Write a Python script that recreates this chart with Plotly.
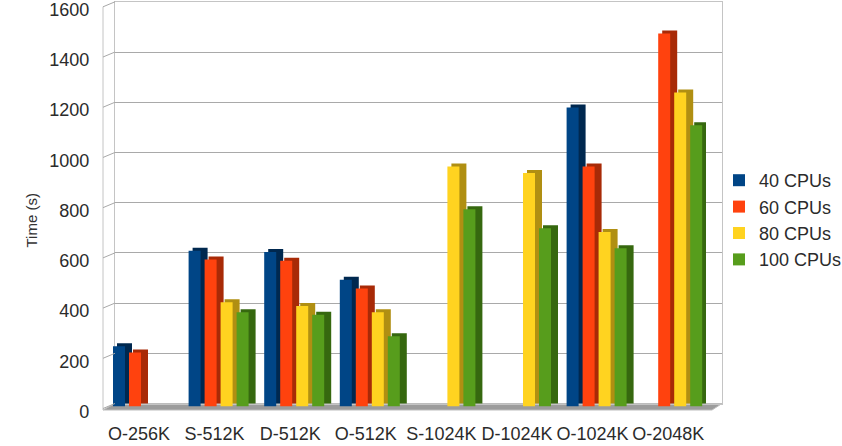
import plotly.graph_objects as go

# Benchmark run times per input set and CPU count
categories = ["O-256K", "S-512K", "D-512K", "O-512K", "S-1024K", "D-1024K", "O-1024K", "O-2048K"]
series_names = ["40 CPUs", "60 CPUs", "80 CPUs", "100 CPUs"]
cpu40 = [240, 620, 615, 505, None, None, 1190, None]
cpu60 = [215, 585, 580, 470, None, None, 955, 1485]
cpu80 = [None, 415, 400, 375, 955, 930, 695, 1250]
cpu100 = [None, 375, 365, 280, 785, 710, 630, 1120]
y_ticks = [0, 200, 400, 600, 800, 1000, 1200, 1400, 1600]

front_colors = ["#004586", "#ff420e", "#ffd320", "#579d1c"]
side_colors = ["#00284f", "#a82a07", "#b08f12", "#36680f"]

W, H = 842, 446
YMAX = 1600

# pixel geometry of the pseudo-3D box
BACK_L, BACK_R = 115, 722       # back wall
BACK_Y0, BACK_Y1 = 403.5, 1.8   # back wall bottom / top
BAR_L, BAR_R = 101.2, 706       # bar plane (category range -0.5 .. 7.5)
BAR_Y0, BAR_Y1 = 406.5, 4.6
FRONT_L = 103
DEPTH_DY = 5.0


def px(x):
    return x / W


def py(y):
    return (H - y) / H


def back_y(v):
    return BACK_Y0 - v * (BACK_Y0 - BACK_Y1) / YMAX


unit_px = (BAR_R - BAR_L) / len(categories)
slot = 16 / unit_px
face_w = 12 / unit_px
side_dx = 4 / unit_px
side_w = 15 / unit_px
start = -26 / unit_px
lift = 3 / ((BAR_Y0 - BAR_Y1) / YMAX)

fig = go.Figure()

# invisible trace so the back-wall axes are drawn
fig.add_trace(go.Scatter(x=[0], y=[0], xaxis="x", yaxis="y", mode="markers",
                         marker=dict(opacity=0), showlegend=False, hoverinfo="skip"))

for k, (name, vals) in enumerate(zip(series_names, [cpu40, cpu60, cpu80, cpu100])):
    off = start + k * slot
    # shaded side/top of each column
    fig.add_trace(go.Bar(
        x=categories, y=vals, base=lift, offset=off + side_dx, width=side_w,
        marker=dict(color=side_colors[k], line=dict(width=0)),
        xaxis="x2", yaxis="y2", showlegend=False, hoverinfo="skip",
    ))
    # lit front face
    fig.add_trace(go.Bar(
        x=categories, y=vals, offset=off, width=face_w, name=name,
        marker=dict(color=front_colors[k], line=dict(width=0)),
        xaxis="x2", yaxis="y2",
    ))

shapes = []
frame_col = "#c4c4c4"
# floor slab
shapes.append(dict(
    type="path", xref="paper", yref="paper", layer="below",
    path=(f"M {px(FRONT_L)},{py(410)} L {px(712)},{py(410)} "
          f"L {px(BACK_R)},{py(BACK_Y0)} L {px(BACK_L)},{py(BACK_Y0)} Z"),
    fillcolor="#9c9c9c", line=dict(color="#bdbdbd", width=1),
))
# left wall front edge
shapes.append(dict(type="line", xref="paper", yref="paper",
                   x0=px(FRONT_L), x1=px(FRONT_L),
                   y0=py(back_y(0) + DEPTH_DY + 1.5), y1=py(back_y(YMAX) + DEPTH_DY),
                   line=dict(color=frame_col, width=1)))
# slanted tick marks on the left wall
for v in y_ticks:
    shapes.append(dict(type="line", xref="paper", yref="paper",
                       x0=px(FRONT_L), x1=px(BACK_L),
                       y0=py(back_y(v) + DEPTH_DY), y1=py(back_y(v)),
                       line=dict(color="#a8a8a8", width=1)))

fig.update_layout(
    width=W, height=H,
    margin=dict(l=0, r=0, t=0, b=0, autoexpand=False),
    paper_bgcolor="white",
    plot_bgcolor="rgba(0,0,0,0)",
    barmode="overlay",
    font=dict(family="Liberation Sans, Arial, sans-serif", size=18, color="#2b2b2b"),
    xaxis=dict(domain=[px(BACK_L), px(BACK_R)], range=[0, 1], showgrid=False,
               showticklabels=False, zeroline=False, showline=True, mirror=True,
               linecolor=frame_col, linewidth=1, fixedrange=True, automargin=False),
    yaxis=dict(domain=[py(BACK_Y0), py(BACK_Y1)], range=[0, YMAX], tickvals=y_ticks,
               showgrid=True, gridcolor="#a9a9a9", gridwidth=1, showticklabels=False,
               zeroline=False, showline=True, mirror=True, linecolor=frame_col,
               linewidth=1, fixedrange=True, automargin=False),
    xaxis2=dict(domain=[px(BAR_L), px(BAR_R)], range=[-0.5, len(categories) - 0.5],
                anchor="y2", showgrid=False, zeroline=False, showline=False,
                ticks="", ticklabelstandoff=14, tickfont=dict(size=18),
                fixedrange=True, automargin=False),
    yaxis2=dict(domain=[py(BAR_Y0), py(BAR_Y1)], range=[0, YMAX], anchor="x2",
                tickvals=y_ticks, showgrid=False, zeroline=False, showline=False,
                ticks="", ticklabelshift=5, ticklabelstandoff=11,
                ticklabeloverflow="allow", tickfont=dict(size=18), fixedrange=True,
                automargin=False),
    legend=dict(x=px(719), y=py(162), xanchor="left", yanchor="top",
                font=dict(size=18), bgcolor="rgba(0,0,0,0)"),
    shapes=shapes,
    annotations=[dict(text="Time (s)", xref="paper", yref="paper", x=px(20), y=py(221),
                      showarrow=False, textangle=-90, font=dict(size=15, color="#333333"))],
)

fig.write_html("out.html")
